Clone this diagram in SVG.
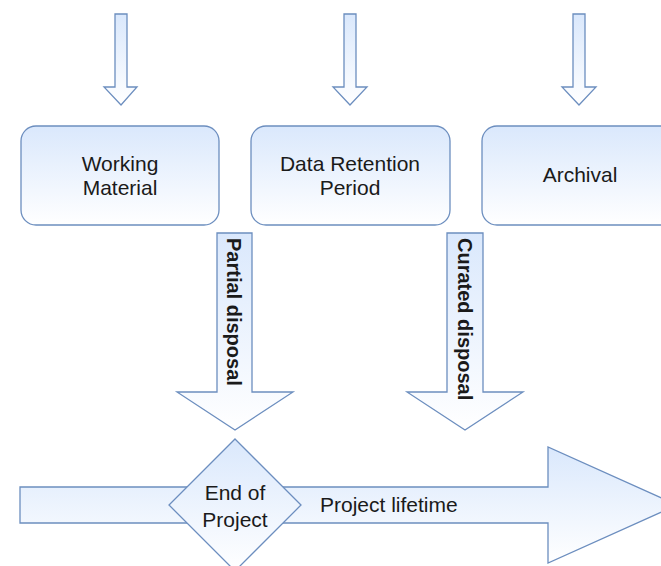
<svg xmlns="http://www.w3.org/2000/svg" width="661" height="566" viewBox="0 0 661 566">
<defs>
<linearGradient id="g" x1="0" y1="0" x2="0" y2="1">
<stop offset="0" stop-color="#dae8fc"/>
<stop offset="1" stop-color="#ffffff"/>
</linearGradient>
<style>
.s{fill:url(#g);stroke:#6c8ebf;stroke-width:1.3;stroke-linejoin:miter}
.t{font-family:"Liberation Sans",Arial,sans-serif;font-size:21px;fill:#1a1a1a;text-anchor:middle}
.v{font-family:"Liberation Sans",Arial,sans-serif;font-size:20px;font-weight:bold;fill:#1a1a1a}
</style>
</defs>
<rect width="661" height="566" fill="#ffffff"/>
<g id="connectors">
<path class="s" d="M115,14 H127 V87 H137 L121,105 L104,87 H115 Z"/>
<path class="s" d="M344,14 H356 V87 H367 L350,105 L333,87 H344 Z"/>
<path class="s" d="M573,14 H585 V87 H596 L579,105 L562,87 H573 Z"/>
<g id="partial-disposal">
<path class="s" d="M217,233 H252 V392 H293 L235,430 L177,392 H217 Z"/>
<text class="v" transform="translate(227,238) rotate(90)">Partial disposal</text>
</g>
<g id="curated-disposal">
<path class="s" d="M447,233 H483 V392 H523 L465,430 L407,392 H447 Z"/>
<text class="v" transform="translate(458,238) rotate(90)">Curated disposal</text>
</g>
<g id="project-lifetime">
<path class="s" d="M20,487 H548 V447 L677,505 L548,563 V523 H20 Z"/>
<text class="t" x="320" y="512" style="text-anchor:start">Project lifetime</text>
</g>
</g>
<g id="working-material">
<rect class="s" x="21" y="126" width="198" height="99" rx="15"/>
<text class="t" x="120" y="171">Working</text>
<text class="t" x="120" y="195">Material</text>
</g>
<g id="data-retention">
<rect class="s" x="251" y="126" width="199" height="99" rx="15"/>
<text class="t" x="350" y="171">Data Retention</text>
<text class="t" x="350" y="195">Period</text>
</g>
<g id="archival">
<rect class="s" x="482" y="126" width="198" height="99" rx="15"/>
<text class="t" x="580" y="182">Archival</text>
</g>
<g id="end-of-project">
<path class="s" d="M235,439 L301,505 L235,571 L169,505 Z"/>
<text class="t" x="235" y="500">End of</text>
<text class="t" x="235" y="527">Project</text>
</g>
</svg>
